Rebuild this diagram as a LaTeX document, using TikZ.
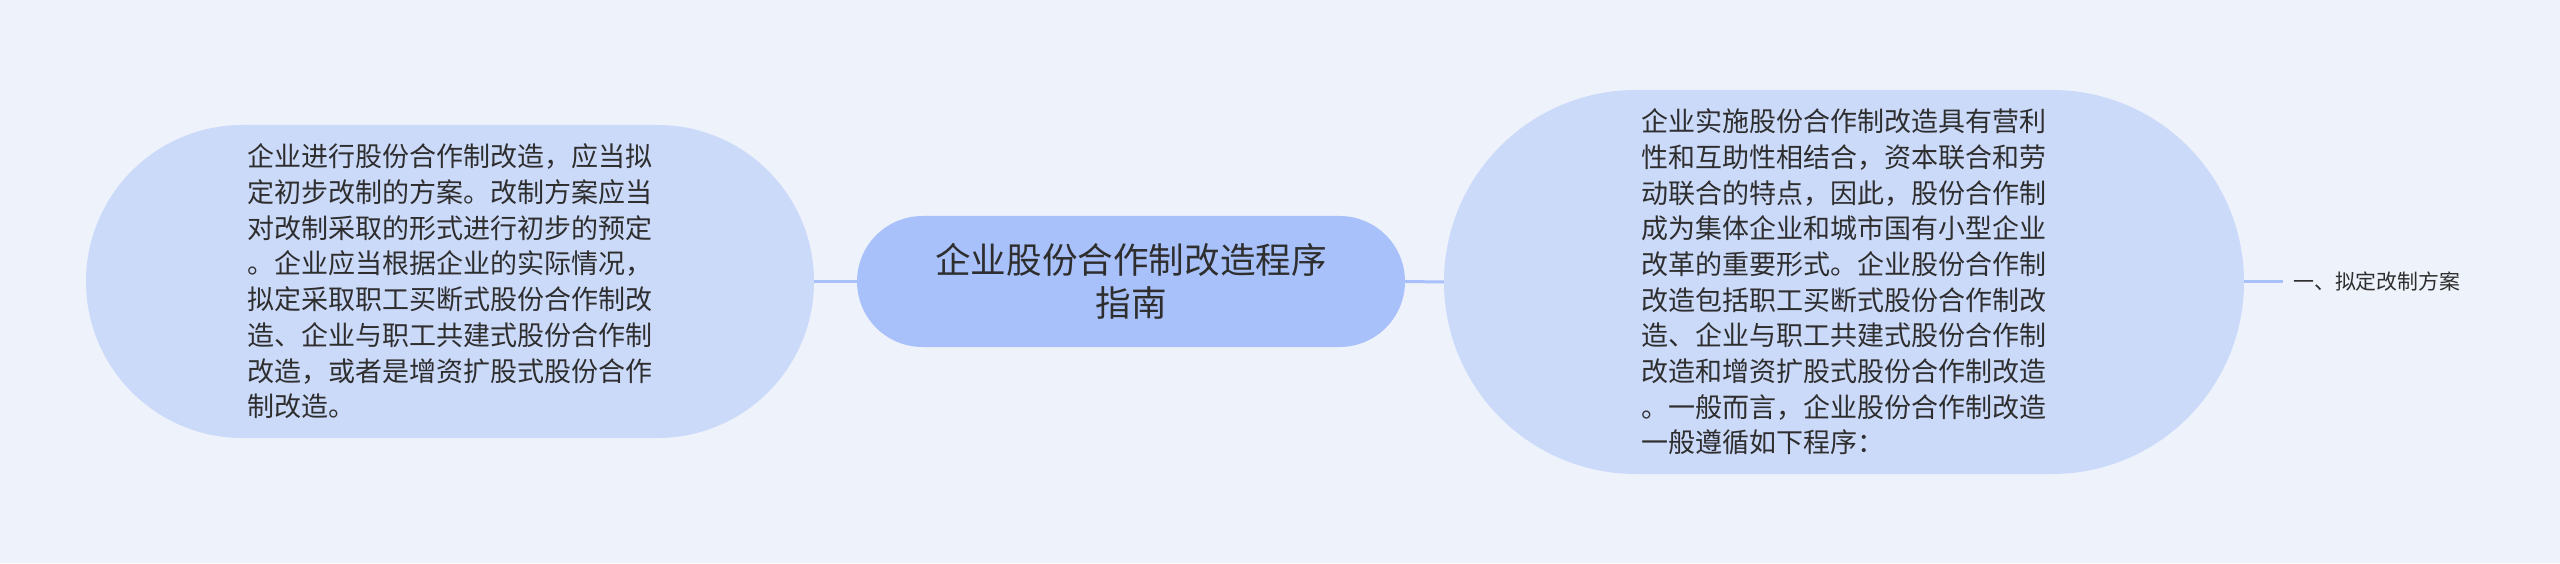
\documentclass[tikz,border=0pt]{standalone}
\usepackage{fontspec}
\newfontfamily\cjk{Noto Sans CJK SC}
\usetikzlibrary{shapes.misc}
\definecolor{bg}{HTML}{EEF2FB}
\definecolor{bubble}{HTML}{CCDAFA}
\definecolor{core}{HTML}{A9C1FA}
\definecolor{ink}{HTML}{2E2E2E}
\tikzset{
  x=1pt,y=1pt,
  bubblebox/.style={rounded rectangle, fill=bubble, inner sep=0pt, text=ink, align=left,
    font={\cjk\fontsize{27}{35.7}\selectfont}},
  corebox/.style={rounded rectangle, fill=core, inner sep=0pt, text=ink, align=center,
    font={\cjk\fontsize{35.6}{43}\selectfont}},
  link/.style={draw=core, line width=3pt},
  leafbox/.style={inner xsep=10pt, inner ysep=2pt, text=ink, anchor=west,
    font={\cjk\fontsize{20.9}{25}\selectfont}}
}
\begin{document}
\begin{tikzpicture}
\fill[bg] (0,0) rectangle (2560,563);
\useasboundingbox (0,0) rectangle (2560,563);
\node[corebox, minimum width=548pt, minimum height=131pt] (core) at (1131,281.5)
  {企业股份合作制改造程序\\指南};
\node[bubblebox, minimum width=728pt, minimum height=313pt, text width=405pt] (left) at (450,281.5)
  {企业进行股份合作制改造，应当拟\\
  定初步改制的方案。改制方案应当\\
  对改制采取的形式进行初步的预定\\
  。企业应当根据企业的实际情况，\\
  拟定采取职工买断式股份合作制改\\
  造、企业与职工共建式股份合作制\\
  改造，或者是增资扩股式股份合作\\
  制改造。};
\node[bubblebox, minimum width=800pt, minimum height=384pt, text width=405pt] (right) at (1844,281)
  {企业实施股份合作制改造具有营利\\
  性和互助性相结合，资本联合和劳\\
  动联合的特点，因此，股份合作制\\
  成为集体企业和城市国有小型企业\\
  改革的重要形式。企业股份合作制\\
  改造包括职工买断式股份合作制改\\
  造、企业与职工共建式股份合作制\\
  改造和增资扩股式股份合作制改造\\
  。一般而言，企业股份合作制改造\\
  一般遵循如下程序：};
\node[leafbox] (leaf) at (2283,281) {一、拟定改制方案};
\draw[link] (left.east) -- (core.west);
\draw[link] (core.east) -- (right.west);
\draw[link] (right.east) -- (leaf.west);
\end{tikzpicture}
\end{document}
